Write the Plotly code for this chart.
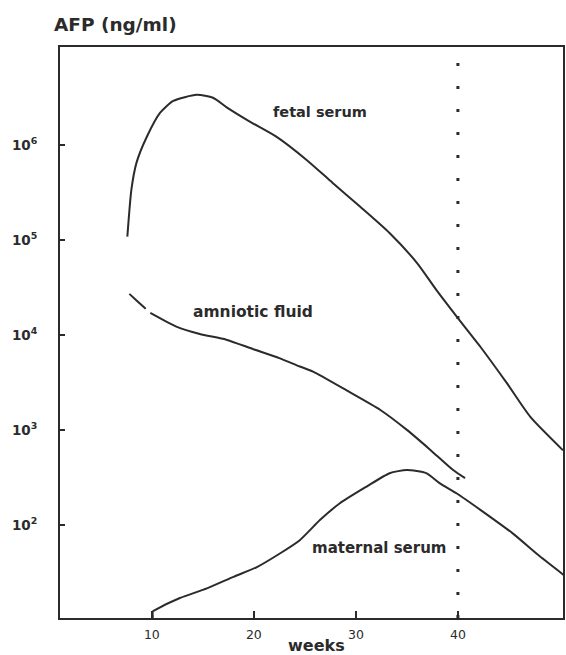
import math
import plotly.graph_objects as go

# Weeks of gestation and AFP concentrations (ng/ml)
fetal_weeks = [7.6, 8.0, 8.5, 9.5, 10.8, 12.1, 14.4, 16.0, 17.3, 19.6, 22.2, 25.2, 27.7,
               30.4, 33.3, 36.0, 37.9, 39.9, 42.2, 44.8, 47.1, 50.3]
fetal_serum = [1.08e5, 3.4e5, 6.5e5, 1.21e6, 2.17e6, 2.9e6, 3.36e6, 3.13e6, 2.5e6, 1.76e6,
               1.22e6, 6.9e5, 4.0e5, 2.24e5, 1.18e5, 5.7e4, 2.96e4, 1.55e4, 7.5e3, 3.1e3,
               1.37e3, 610]

amniotic_weeks = [7.8, 8.5, 9.4, None, 9.85, 12.4, 14.7, 17.3, 19.9, 22.5, 24.5, 25.8,
                  29.1, 32.4, 35.0, 37.3, 39.5, 40.7]
amniotic_fluid = [2.7e4, 2.3e4, 1.88e4, None, 1.7e4, 1.22e4, 1.02e4, 8.9e3, 7.1e3, 5.7e3,
                  4.65e3, 4.1e3, 2.6e3, 1.62e3, 1.0e3, 616, 380, 310]

maternal_weeks = [10.1, 10.1, 10.3, 12.75, 15.4, 18.0, 20.3, 22.55, 24.5, 26.5, 28.4,
                  31.05, 33.3, 35.0, 36.9, 38.2, 39.9, 42.2, 45.4, 48.0, 50.5]
maternal_serum = [10.5, 12.3, 12.7, 17, 21.5, 28.4, 36, 50, 69, 113, 168, 253, 350, 378,
                  350, 275, 214, 144, 81, 47, 29]

x_ticks = [10, 20, 30, 40]
y_ticks = [1e2, 1e3, 1e4, 1e5, 1e6]
y_ticktext = ["10<sup>2</sup>", "10<sup>3</sup>", "10<sup>4</sup>", "10<sup>5</sup>", "10<sup>6</sup>"]
term_week = 40

curve_labels = ["fetal serum", "amniotic fluid", "maternal serum"]
label_weeks = [26.5, 19.9, 32.3]
label_values = [2.2e6, 1.74e4, 57]
label_sizes = [14.5, 15.5, 15]

ink = "#2b2b2b"
font = "DejaVu Sans, Verdana, sans-serif"

fig = go.Figure()
for xs, ys in [(fetal_weeks, fetal_serum), (amniotic_weeks, amniotic_fluid),
               (maternal_weeks, maternal_serum)]:
    fig.add_trace(go.Scatter(x=xs, y=ys, mode="lines", connectgaps=False,
                             line=dict(color=ink, width=2, shape="spline", smoothing=0.6),
                             showlegend=False, hoverinfo="skip"))

fig.add_shape(type="line", xref="x", yref="paper", x0=term_week, x1=term_week, y0=0, y1=1,
              line=dict(color=ink, width=3, dash="3px,20px"))

for text, x, y, s in zip(curve_labels, label_weeks, label_values, label_sizes):
    fig.add_annotation(x=x, y=math.log10(y), xref="x", yref="y", text="<b>" + text + "</b>",
                       showarrow=False, xanchor="center", yanchor="middle",
                       font=dict(family=font, size=s, color=ink))

fig.add_annotation(x=-0.016, y=1.0, xref="paper", yref="paper", yanchor="bottom",
                   xanchor="left", yshift=10, text="<b>AFP (ng/ml)</b>", showarrow=False,
                   font=dict(family=font, size=18.5, color=ink))

fig.add_annotation(x=0.5, y=0, xref="paper", yref="paper", yanchor="top",
                   xanchor="center", yshift=-16, xshift=5, text="<b>weeks</b>", showarrow=False,
                   font=dict(family=font, size=16, color=ink))

fig.update_layout(
    width=566, height=655,
    margin=dict(l=60, r=3, t=47, b=37),
    paper_bgcolor="white", plot_bgcolor="white",
    font=dict(family=font, color=ink, size=13),
    xaxis=dict(range=[1, 50.3], tickvals=x_ticks, ticks="inside", ticklen=7, tickwidth=2,
               tickcolor=ink, showline=True, linewidth=2, linecolor=ink, mirror=True,
               showgrid=False, zeroline=False, ticklabelstandoff=4, automargin=False,
               tickprefix="<b>", ticksuffix="</b>", tickfont=dict(size=12.5)),
    yaxis=dict(type="log", range=[1.02, 7.03], tickvals=y_ticks,
               ticktext=["<b>" + t + "</b>" for t in y_ticktext],
               ticks="inside", ticklen=5, tickwidth=1.5, tickcolor=ink, showline=True,
               linewidth=2, linecolor=ink, mirror=True, showgrid=False, zeroline=False,
               ticklabelstandoff=18, automargin=False, tickfont=dict(size=13.5)),
)

fig.write_html("out.html", config={"responsive": False, "displayModeBar": False},
               post_script="document.body.style.margin='0';document.body.style.overflow='hidden';")
